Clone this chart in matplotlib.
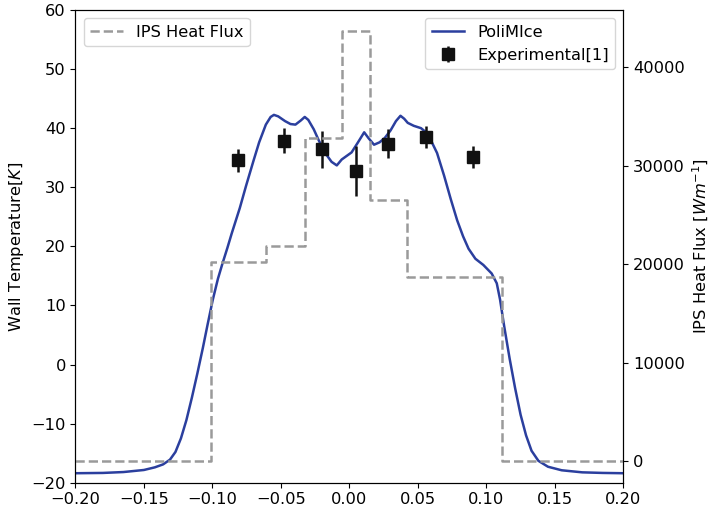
# wall temperature along the surface with the imposed heat flux on a second axis
import matplotlib.pyplot as plt

plt.rcParams['font.size'] = 11.7

# PoliMIce wall temperature
x_sim = [-0.200, -0.180, -0.165, -0.150, -0.142, -0.136, -0.131, -0.127, -0.123,
         -0.119, -0.115, -0.111, -0.107, -0.1035, -0.0998, -0.0960, -0.0928,
         -0.0890, -0.0859, -0.0800, -0.0755, -0.0700, -0.0659, -0.0610, -0.0575,
         -0.0551, -0.0520, -0.0470, -0.0430, -0.0394, -0.0355, -0.0326, -0.0300,
         -0.0260, -0.0225, -0.0180, -0.0130, -0.0092, -0.0056, 0.0016, 0.0060,
         0.0108, 0.0140, 0.0180, 0.0220, 0.0257, 0.0300, 0.0340, 0.0373, 0.0400,
         0.0426, 0.0470, 0.0523, 0.0560, 0.0594, 0.0640, 0.0691, 0.0740, 0.0787,
         0.0830, 0.0870, 0.0920, 0.0978, 0.1039, 0.1076, 0.1100, 0.1130, 0.1170,
         0.1210, 0.1250, 0.1290, 0.1330, 0.1380, 0.1450, 0.1550, 0.1700, 0.1850,
         0.2000]
T_sim = [-18.4, -18.35, -18.2, -17.85, -17.4, -16.9, -16.1, -14.8, -12.5,
         -9.4, -5.6, -1.5, 2.8, 6.8, 10.9, 14.5, 17.0,
         19.8, 22.2, 26.5, 30.2, 34.5, 37.6, 40.6, 41.9,
         42.25, 42.0, 41.2, 40.7, 40.6, 41.3, 41.9, 41.4,
         39.8, 38.0, 35.9, 34.3, 33.7, 34.7, 35.9, 37.5,
         39.3, 38.3, 37.2, 37.6, 38.3, 39.6, 41.2, 42.1, 41.6,
         40.9, 40.4, 40.0, 39.3, 38.0, 35.8, 32.0, 28.0, 24.4,
         21.7, 19.6, 17.9, 16.85, 15.4, 13.75, 11.0, 6.5, 1.0,
         -4.0, -8.5, -12.0, -14.6, -16.3, -17.3, -17.9, -18.25, -18.35,
         -18.4]

# experimental points
x_exp = [-0.0815, -0.0475, -0.0201, 0.0045, 0.0281, 0.0556, 0.0900]
T_exp = [34.6, 37.9, 36.4, 32.8, 37.4, 38.5, 35.1]
T_err = [1.95, 2.15, 3.2, 4.2, 2.4, 1.9, 1.9]

# imposed IPS heat flux, piecewise constant
x_edges = [-0.2, -0.1013, -0.0609, -0.0324, -0.0056, 0.0150, 0.0418, 0.1112, 0.2]
q_vals = [0, 20240, 21830, 32860, 43650, 26500, 18720, 0]

fig, ax = plt.subplots(figsize=(7.1, 5.13), dpi=100)
fig.subplots_adjust(left=0.1063, right=0.8779, bottom=0.0591, top=0.9805)

ax.plot(x_sim, T_sim, color='#2b3f9e', lw=1.8, label='PoliMIce')
ax.errorbar(x_exp, T_exp, yerr=T_err, fmt='s', color='#111111', ms=8,
            elinewidth=1.8, capsize=0, label='Experimental[1]')
ax.set_xlim(-0.2, 0.2)
ax.set_ylim(-20, 60)
ax.set_ylabel('Wall Temperature[$K$]')
ax.legend(loc='upper right')

ax2 = ax.twinx()
ax2.step(x_edges, q_vals + [q_vals[-1]], where='post', color='#9a9a9a',
         ls='--', lw=1.8, label='IPS Heat Flux')
ax2.set_xlim(-0.2, 0.2)
ax2.set_ylabel('IPS Heat Flux [$Wm^{-1}$]')
ax2.legend(loc='upper left')

plt.savefig('out.png')
